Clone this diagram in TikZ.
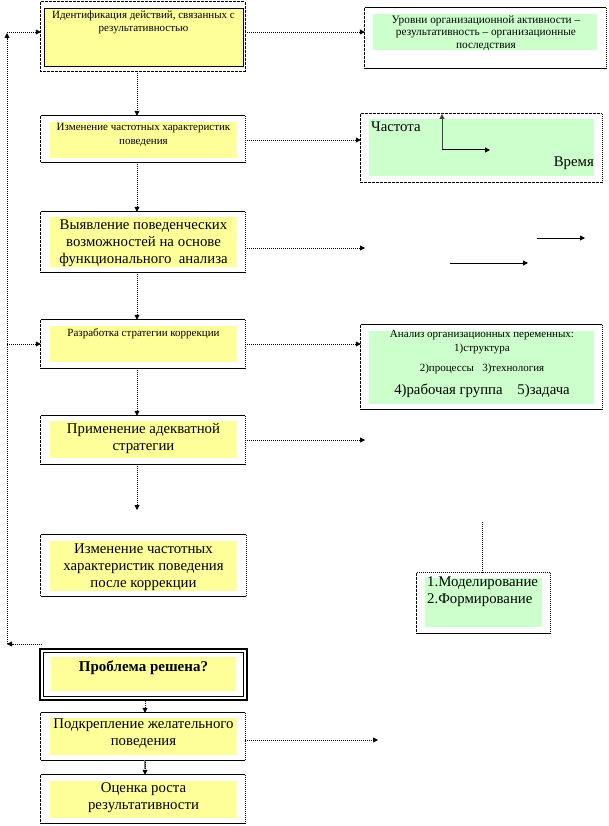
\documentclass[tikz,border=0pt]{standalone}
\usepackage{fontspec}
\setmainfont{Liberation Serif}
\usetikzlibrary{arrows.meta}
\definecolor{ylw}{RGB}{255,255,153}
\definecolor{grn}{RGB}{204,255,204}
\newcommand{\frmbox}[1]{%
  \draw[black,line width=0.7pt] (#1.north west) -- (#1.north east);
  \draw[black,line width=0.7pt,dash pattern=on 3pt off 1pt] (#1.north west) -- (#1.south west);
  \draw[black,line width=0.7pt,dash pattern=on 1pt off 1pt] (#1.north east) -- (#1.south east);
  \draw[black,line width=0.7pt] (#1.south west) -- (#1.south east);}
\tikzset{
  outer/.style={draw=none,rectangle,inner sep=0pt},
  yfill/.style={fill=ylw,draw=none,rectangle,inner sep=0pt},
  gfill/.style={fill=grn,draw=none,rectangle,inner sep=0pt},
  smalltxt/.style={align=center,inner sep=0pt,font=\fontsize{11}{13.5}\selectfont},
  bigtxt/.style={align=center,inner sep=0pt,font=\fontsize{14.8}{17}\selectfont},
  conn/.style={black,line width=0.8pt,dash pattern=on 1pt off 1pt,-{Triangle[length=5pt,width=5pt]}},
  plainconn/.style={black,line width=0.8pt,dash pattern=on 1pt off 1pt},
}
\begin{document}
\begin{tikzpicture}[x=1pt,y=-1pt]
\useasboundingbox (0,0) rectangle (609,826);
% ---------- left column ----------
% Box 1
\node[outer,minimum width=204pt,minimum height=69pt] (b1) at (143,36.5) {};
\draw[black,line width=0.7pt,dash pattern=on 3pt off 1pt] (b1.north west) rectangle (b1.south east);
\node[fill=ylw,draw=black,line width=0.9pt,inner sep=0pt,minimum width=199pt,minimum height=58pt] (b1f) at (143.5,37) {};
\node[smalltxt] (b1t) at (143.5,22.5) {Идентификация действий, связанных с\\результативностью};
% Box 2
\node[outer,minimum width=204pt,minimum height=46pt] (b2) at (143,139) {};
\frmbox{b2}
\node[yfill,minimum width=187pt,minimum height=36pt] (b2f) at (143.5,140) {};
\node[smalltxt] (b2t) at (143.5,135) {Изменение частотных характеристик\\поведения};
% Box 3
\node[outer,minimum width=204pt,minimum height=60pt] (b3) at (143,242) {};
\frmbox{b3}
\node[yfill,minimum width=187pt,minimum height=50pt] (b3f) at (143.5,242) {};
\node[bigtxt] (b3t) at (143.5,243) {Выявление поведенческих\\возможностей на основе\\функционального\ \ анализа};
% Box 4
\node[outer,minimum width=204pt,minimum height=48pt] (b4) at (143,344) {};
\frmbox{b4}
\node[yfill,minimum width=187pt,minimum height=36pt] (b4f) at (143.5,344) {};
\node[smalltxt] (b4t) at (143.5,334) {Разработка стратегии коррекции};
% Box 5
\node[outer,minimum width=204pt,minimum height=48pt] (b5) at (143,440) {};
\frmbox{b5}
\node[yfill,minimum width=187pt,minimum height=37pt] (b5f) at (143.5,439.5) {};
\node[bigtxt] (b5t) at (143.5,439) {Применение адекватной\\стратегии};
% Box 6
\node[outer,minimum width=205pt,minimum height=61pt] (b6) at (143.5,565.5) {};
\frmbox{b6}
\node[yfill,minimum width=187pt,minimum height=50pt] (b6f) at (143.5,566) {};
\node[bigtxt] (b6t) at (143.5,567) {Изменение частотных\\характеристик поведения\\после коррекции};
% Box 7 (double border)
\node[draw=black,line width=1.6pt,inner sep=0pt,minimum width=207pt,minimum height=51pt] (b7) at (143.5,674.5) {};
\node[draw=black,line width=0.7pt,inner sep=0pt,minimum width=200pt,minimum height=44pt] (b7i) at (143.5,674.5) {};
\node[yfill,minimum width=185pt,minimum height=34pt] (b7f) at (143.5,674) {};
\node[bigtxt,font=\fontsize{15}{17}\selectfont\bfseries] (b7t) at (143.5,668) {Проблема решена?};
% Box 8
\node[outer,minimum width=204pt,minimum height=47pt] (b8) at (143,736.5) {};
\frmbox{b8}
\node[yfill,minimum width=187pt,minimum height=37pt] (b8f) at (143.5,736.5) {};
\node[bigtxt] (b8t) at (143.5,734) {Подкрепление желательного\\поведения};
% Box 9
\node[outer,minimum width=204pt,minimum height=48pt] (b9) at (143,799) {};
\frmbox{b9}
\node[yfill,minimum width=187pt,minimum height=37pt] (b9f) at (143.5,799.5) {};
\node[bigtxt] (b9t) at (143.5,797.5) {Оценка роста\\результативности};
% ---------- right column ----------
% R1
\node[outer,minimum width=241pt,minimum height=60pt] (r1) at (485.5,38) {};
\frmbox{r1}
\node[gfill,minimum width=224pt,minimum height=36pt] (r1f) at (485,32) {};
\node[smalltxt,font=\fontsize{11.3}{12.5}\selectfont] (r1t) at (486,33) {Уровни организационной активности –\\результативность – организационные\\последствия};
% R2
\node[outer,minimum width=241pt,minimum height=68pt] (r2) at (481.5,148) {};
\draw[black,line width=0.7pt,dash pattern=on 3pt off 1pt] (r2.north west) -- (r2.north east);
\draw[black,line width=0.7pt,dash pattern=on 3pt off 1pt] (r2.north west) -- (r2.south west) -- (r2.south east);
\draw[black,line width=0.7pt,dash pattern=on 1pt off 1pt] (r2.north east) -- (r2.south east);
\node[gfill,minimum width=225pt,minimum height=57pt] (r2f) at (481.5,147.5) {};
\node[bigtxt,anchor=west] (r2a) at (371,127) {Частота};
\node[bigtxt,anchor=east] (r2b) at (594,163) {Время};
\coordinate (ax0) at (442,150);
\coordinate (axy) at (442,114);
\coordinate (axx) at (490,150);
\draw[gray!50!black,line width=1pt,-{Triangle[length=5pt,width=5pt]}] (ax0) -- (axy);
\draw[black,line width=1pt,-{Triangle[length=5pt,width=5pt]}] (ax0) -- (axx);
% R3
\node[outer,minimum width=241pt,minimum height=84pt] (r3) at (481.5,367) {};
\frmbox{r3}
\node[gfill,minimum width=225pt,minimum height=73pt] (r3f) at (481.5,367.5) {};
\node[smalltxt] (r3a) at (482,342) {Анализ организационных переменных:\\1)структура};
\node[smalltxt] (r3b) at (482,369) {2)процессы\ \ \ 3)технология};
\node[bigtxt] (r3c) at (482,391) {4)рабочая группа\ \ \ \ 5)задача};
% R4
\node[outer,minimum width=133pt,minimum height=60pt] (r4) at (483.5,603) {};
\draw[black,line width=0.7pt,dash pattern=on 1pt off 1pt] (r4.north west) -- (r4.north east);
\draw[black,line width=0.7pt,dash pattern=on 3pt off 1pt] (r4.north west) -- (r4.south west);
\draw[black,line width=0.7pt,dash pattern=on 1pt off 1pt] (r4.north east) -- (r4.south east);
\draw[black,line width=0.9pt] (r4.south west) -- (r4.south east);
\node[gfill,minimum width=117pt,minimum height=49pt] (r4f) at (483.5,602.5) {};
\node[bigtxt,align=left,anchor=north west] (r4t) at (427,577) {1.Моделирование\\2.Формирование};
% ---------- connectors: vertical chain ----------
\draw[conn] ([xshift=-6pt]b1.south) -- ([xshift=-6pt]b2.north);
\draw[conn] ([xshift=-6pt]b2.south) -- ([xshift=-6pt]b3.north);
\draw[conn] ([xshift=-6pt]b3.south) -- ([xshift=-6pt]b4.north);
\draw[conn] ([xshift=-6pt]b4.south) -- ([xshift=-6pt]b5.north);
\coordinate (d5) at (137,510);
\draw[conn] ([xshift=-6pt]b5.south) -- (d5);
\draw[conn] ([xshift=1.5pt]b7.south) -- ([xshift=2pt]b8.north);
\draw[gray,line width=1.2pt] ([xshift=2pt]b8.south) -- ++(0,9);
\draw[conn] ([xshift=2pt]b8.south) -- ([xshift=2pt]b9.north);
% ---------- connectors: to the right ----------
\draw[conn] ([yshift=4.5pt]b1.east) -- ([yshift=6pt]r1.west);
\draw[conn] ([yshift=-1pt]b2.east) -- ([yshift=8pt]r2.west);
\coordinate (e3) at (365,248);
\draw[conn] ([yshift=-6pt]b3.east) -- (e3);
\draw[conn] (b4.east) -- ([yshift=23pt]r3.west);
\coordinate (e5) at (365,440);
\draw[conn] (b5.east) -- (e5);
\coordinate (e8) at (378,740);
\draw[conn] ([yshift=-3.5pt]b8.east) -- (e8);
% free arrows
\coordinate (f1a) at (537,238);
\coordinate (f1b) at (585,238);
\draw[black,line width=0.8pt,dash pattern=on 0.6pt off 0.4pt,-{Triangle[length=5pt,width=5pt]}] (f1a) -- (f1b);
\coordinate (f2a) at (450,263);
\coordinate (f2b) at (528,263);
\draw[black,line width=1pt,-{Triangle[length=5pt,width=5pt]}] (f2a) -- (f2b);
% line to R4
\coordinate (v4) at (482,522);
\draw[plainconn] (v4) -- ([xshift=-1.5pt]r4.north);
% ---------- feedback loop ----------
\coordinate (lp1) at (42,644);
\coordinate (lp2) at (7,644);
\coordinate (lp3) at (7,33);
\coordinate (lp4) at (7,32);
\coordinate (lp5) at (7,344);
\draw[conn] (lp1) -- (lp2);
\draw[conn] (lp2) -- (lp3);
\draw[conn] (lp4) -- ([yshift=4.5pt]b1.west);
\draw[conn] (lp5) -- (b4.west);
\end{tikzpicture}
\end{document}
